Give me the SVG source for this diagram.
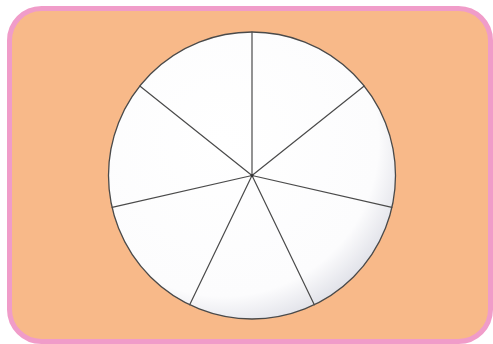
<svg xmlns="http://www.w3.org/2000/svg" width="493" height="344" viewBox="0 0 493 344">
<defs>
<radialGradient id="shade" cx="0.4" cy="0.38" r="0.66">
<stop offset="0" stop-color="#ffffff"/>
<stop offset="0.82" stop-color="#fcfcfd"/>
<stop offset="1" stop-color="#e0e1e8"/>
</radialGradient>
<style>
.spoke{stroke:#4a4a4a;stroke-width:1.2;fill:none;stroke-linecap:round}
</style>
</defs>
<rect id="frame" x="9.5" y="8.5" width="481" height="333" rx="32" ry="32" fill="#F8B989" stroke="#F09CC9" stroke-width="5"/>
<g id="pie">
<circle cx="252" cy="175.5" r="143.5" fill="url(#shade)" stroke="#4a4a4a" stroke-width="1.3"/>
</g>
<g id="connectors">
<line class="spoke" x1="252" y1="175.5" x2="252" y2="32"/>
<line class="spoke" x1="252" y1="175.5" x2="364.2" y2="86.0"/>
<line class="spoke" x1="252" y1="175.5" x2="391.9" y2="207.4"/>
<line class="spoke" x1="252" y1="175.5" x2="314.3" y2="304.8"/>
<line class="spoke" x1="252" y1="175.5" x2="189.7" y2="304.8"/>
<line class="spoke" x1="252" y1="175.5" x2="112.1" y2="207.4"/>
<line class="spoke" x1="252" y1="175.5" x2="139.8" y2="86.0"/>
<circle cx="252" cy="175.5" r="1.5" fill="#333"/>
</g>
</svg>
